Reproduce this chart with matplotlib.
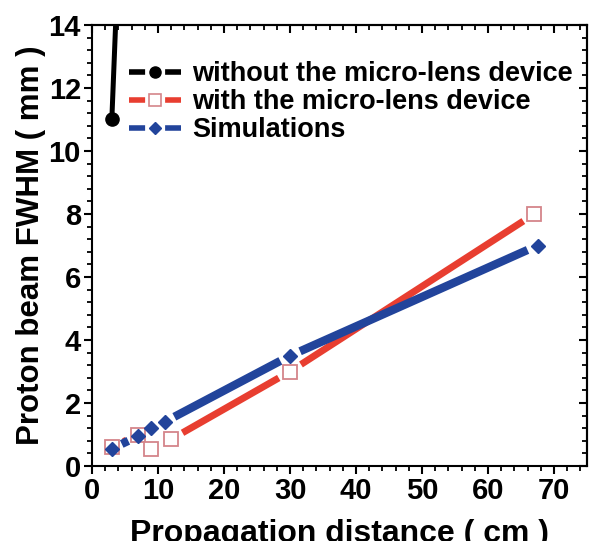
import matplotlib
matplotlib.use("Agg")
import matplotlib.pyplot as plt
from matplotlib.lines import Line2D
from matplotlib.ticker import MultipleLocator
import numpy as np

plt.rcParams['font.family'] = ['Liberation Sans', 'DejaVu Sans']
plt.rcParams['font.weight'] = 'bold'

# measured beam widths (mm) vs propagation distance (cm)
dist_without = [3, 7]
fwhm_without = [11.0, 32.0]

dist_with = [3, 7, 9, 12, 30, 67]
fwhm_with = [0.6, 1.0, 0.55, 0.85, 3.0, 8.0]

dist_sim = [3, 7, 9, 11, 30, 67.5]
fwhm_sim = [0.55, 0.95, 1.2, 1.4, 3.5, 7.0]

labels = ['without the micro-lens device', 'with the micro-lens device', 'Simulations']

BLUE = '#22449b'
RED = '#e83e30'
PINK = '#d4858a'


def gapped_line(ax, x, y, gap, **kw):
    # connect points with straight segments that stop `gap` px short of each marker
    tr = ax.transData
    inv = tr.inverted()
    pts = tr.transform(np.column_stack([x, y]))
    for p0, p1 in zip(pts[:-1], pts[1:]):
        d = p1 - p0
        n = np.hypot(*d)
        if n <= 2 * gap:
            continue
        u = d / n
        a = inv.transform(p0 + u * gap)
        b = inv.transform(p1 - u * gap)
        ax.plot([a[0], b[0]], [a[1], b[1]], solid_capstyle='butt', **kw)


fig = plt.figure(figsize=(5.96, 5.41), dpi=100)
ax = fig.add_axes([0.1544, 0.1386, 0.8306, 0.8152])
ax.set_xlim(0, 75)
ax.set_ylim(0, 14)

# black: without lens
ax.plot(dist_without, fwhm_without, color='black', lw=3.6, solid_capstyle='butt', zorder=3)
ax.plot(dist_without[:1], fwhm_without[:1], 'o', color='black', ms=9.5, zorder=4)

# red: with lens
gapped_line(ax, dist_with, fwhm_with, 13, color=RED, lw=5, zorder=2)
ax.plot(dist_with, fwhm_with, 's', ms=10.5, mfc='white', mec=PINK, mew=1.3, zorder=4)

# blue: simulations
gapped_line(ax, dist_sim, fwhm_sim, 11, color=BLUE, lw=6, zorder=3)
ax.plot(dist_sim, fwhm_sim, 'D', ms=7.5, color=BLUE, mec=BLUE, zorder=5)

# ticks: outward on left/bottom, inward on top/right
ax.xaxis.set_major_locator(MultipleLocator(10))
ax.xaxis.set_minor_locator(MultipleLocator(2))
ax.yaxis.set_major_locator(MultipleLocator(2))
ax.yaxis.set_minor_locator(MultipleLocator(0.4))
ax.tick_params(which='major', direction='out', length=6, width=1.5, labelsize=21, pad=2)
ax.tick_params(which='minor', direction='out', length=3.5, width=1.3)
for sp in ax.spines.values():
    sp.set_linewidth(1.5)

top = ax.secondary_xaxis('top')
top.xaxis.set_major_locator(MultipleLocator(10))
top.xaxis.set_minor_locator(MultipleLocator(2))
top.tick_params(which='major', direction='in', length=6, width=1.5, labeltop=False)
top.tick_params(which='minor', direction='in', length=3.5, width=1.3)
right = ax.secondary_yaxis('right')
right.yaxis.set_major_locator(MultipleLocator(2))
right.yaxis.set_minor_locator(MultipleLocator(0.4))
right.tick_params(which='major', direction='in', length=6, width=1.5, labelright=False)
right.tick_params(which='minor', direction='in', length=3.5, width=1.3)
for sec in (top, right):
    for sp in sec.spines.values():
        sp.set_linewidth(1.5)

ax.set_xlabel('Propagation distance ( cm )', fontsize=23, fontweight='bold', labelpad=10)
ax.set_ylabel('Proton beam FWHM ( mm )', fontsize=22.5, fontweight='bold', labelpad=2)

handles = [
    Line2D([], [], color='black', lw=4, ls=(0, (2.9, 3.6)), marker='o', ms=8, mfc='black'),
    Line2D([], [], color=RED, lw=4, ls=(0, (2.9, 3.6)), marker='s', ms=9, mfc='white', mec=PINK, mew=1.2),
    Line2D([], [], color=BLUE, lw=4, ls=(0, (2.9, 3.6)), marker='D', ms=6.5, mfc=BLUE, mec=BLUE),
]
ax.legend(handles, labels, loc='upper left', bbox_to_anchor=(0.075, 0.918), frameon=False,
          handlelength=1.92, handletextpad=0.4, labelspacing=0.08,
          borderpad=0, borderaxespad=0, numpoints=1, prop={'weight': 'bold', 'size': 19.5})

fig.savefig('out.png', dpi=100)
